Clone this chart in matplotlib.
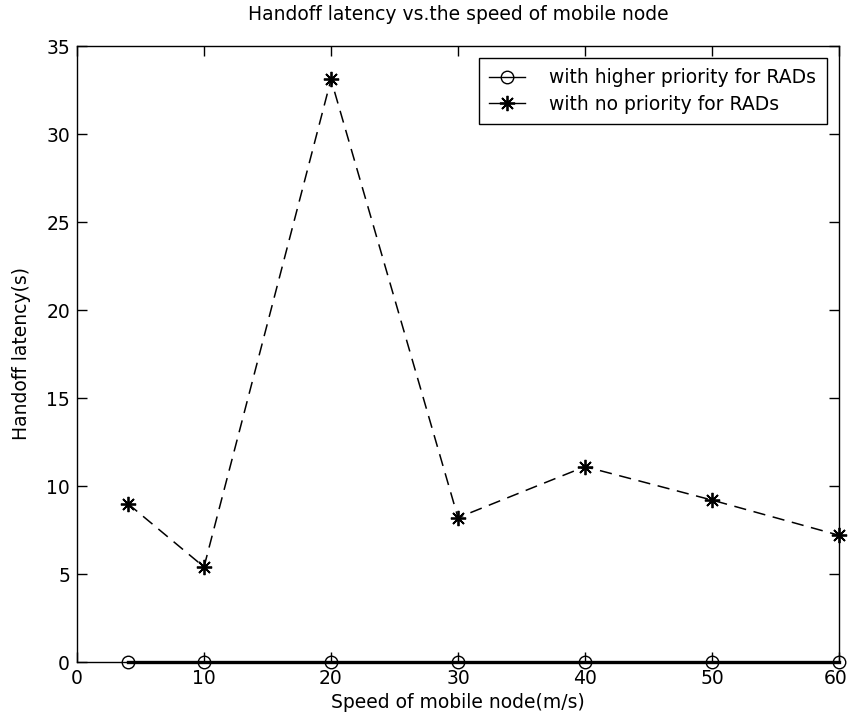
import matplotlib.pyplot as plt
import matplotlib.transforms as mtransforms
from matplotlib.lines import Line2D

speed = [4, 10, 20, 30, 40, 50, 60]
latency_priority = [0, 0, 0, 0, 0, 0, 0]
latency_no_priority = [9.0, 5.4, 33.1, 8.2, 11.1, 9.2, 7.2]

plt.rcParams["font.family"] = ["DejaVu Sans"]
plt.rcParams["font.size"] = 13.5

star = (8, 2, 0)  # asterisk: plus and cross overlaid

fig = plt.figure(figsize=(8.49, 7.27), dpi=100)
ax = fig.add_axes([77 / 849, 1 - 662 / 727, (839 - 77) / 849, (662 - 46) / 727])

ax.plot(speed, latency_priority, color="black", lw=2.4, marker="o", ms=9,
        mfc="none", mec="black", mew=1.0, clip_on=False, zorder=3)
ax.plot(speed, latency_no_priority, color="black", lw=1.1, ls=(0, (8, 5)),
        marker=star, ms=11, mfc="black", mec="black", mew=1.3, clip_on=False)

ax.set_xlim(0, 60)
ax.set_ylim(0, 35)
ax.set_xticks(range(0, 61, 10))
ax.set_yticks(range(0, 36, 5))
ax.tick_params(direction="in", top=True, right=True, length=7, width=1,
               pad=5, colors="black", labelsize=13.5)
for s in ax.spines.values():
    s.set_linewidth(1.0)

# nudge the last x tick label so it stays inside the canvas
last = ax.get_xticklabels()[-1]
last.set_transform(last.get_transform() +
                   mtransforms.ScaledTranslation(-3 / 100, 0, fig.dpi_scale_trans))

ax.set_title("Handoff latency vs.the speed of mobile node", fontsize=13.5, pad=19)
ax.set_xlabel("Speed of mobile node(m/s)", fontsize=13.5, labelpad=4)
ax.set_ylabel("Handoff latency(s)", fontsize=13.5, labelpad=11)

handles = [
    Line2D([], [], color="black", lw=1.0, marker="o", ms=9, mfc="none", mec="black"),
    Line2D([], [], color="black", lw=1.0, marker=star, ms=11, mfc="black", mec="black", mew=1.3),
]
leg = ax.legend(handles, ["with higher priority for RADs", "with no priority for RADs"],
                loc="upper right", bbox_to_anchor=(0.984, 0.9805), borderaxespad=0,
                fancybox=False, edgecolor="black", framealpha=1, handlelength=1.9,
                borderpad=0.55, labelspacing=0.4, handletextpad=1.3, fontsize=13.5)
leg.get_frame().set_linewidth(1.0)

fig.savefig("out.png", dpi=100)
